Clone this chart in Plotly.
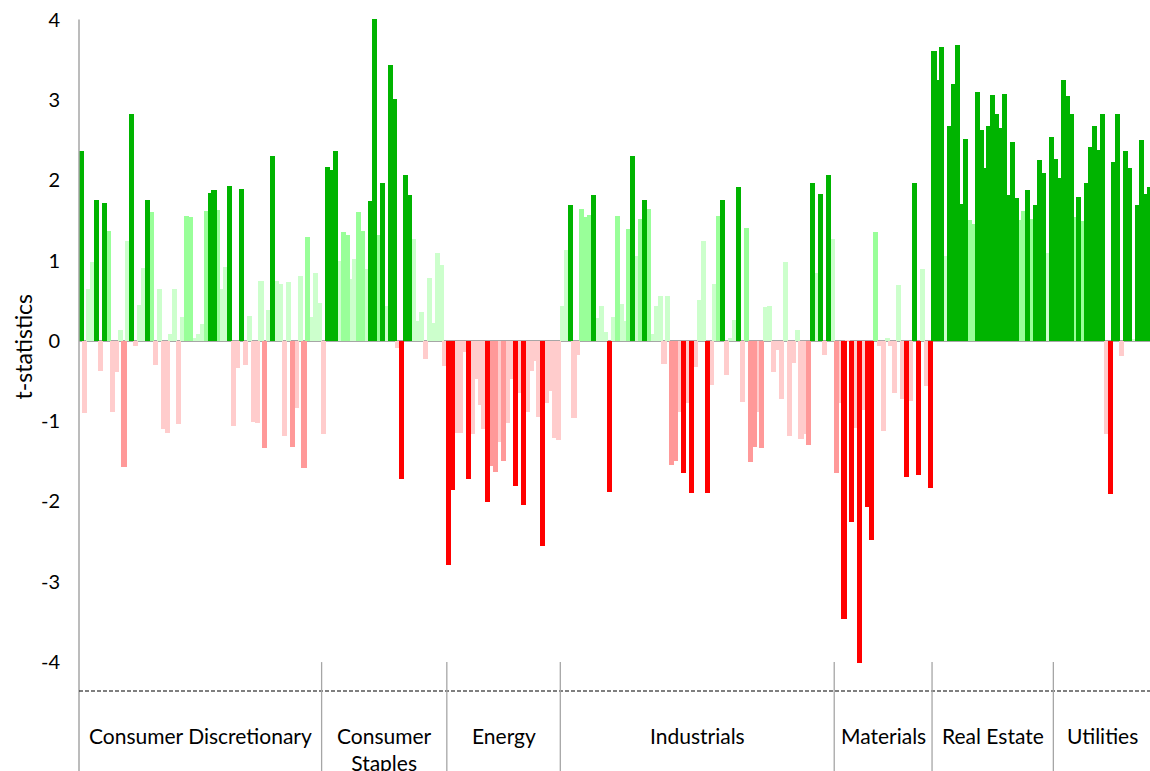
import plotly.graph_objects as go

# t-statistics per stock, grouped by GICS sector (left to right)
sectors = ["Consumer Discretionary", "Consumer<br>Staples", "Energy", "Industrials",
           "Materials", "Real Estate", "Utilities"]

consumer_discretionary = [
    2.37, -0.90, 0.64, 0.98, 1.76, -0.38, 1.72, 1.37, -0.88, -0.39,
    0.14, -1.57, 1.24, 2.82, -0.06, 0.45, 0.91, 1.76, 1.60, -0.30,
    0.64, -1.10, -1.15, 0.08, 0.64, -1.04, 0.30, 1.56, 1.54, 0.03,
    0.09, 0.21, 1.62, 1.84, 1.88, 1.63, 0.64, 0.92, 1.93, -1.06,
    -0.34, 1.89, -0.30, 0.31, -1.01, -1.02, 0.75, -1.33, 0.38, 2.30,
    0.75, 0.71, -1.18, 0.73, -1.32, -0.84, 0.81, -1.58, 1.29, 0.30,
    0.85, 0.47,
]
consumer_staples = [
    -1.16, 2.16, 2.13, 2.37, 0.99, 1.36, 1.32, 0.77, 1.02, 1.60,
    1.37, 0.90, 1.74, 4.01, 1.32, 1.96, 0.44, 3.43, 3.01, -0.09,
    -1.72, 2.06, 1.82, 1.27, 0.25, 0.36, -0.22, 0.78, 0.22, 1.10,
    0.94, -0.31,
]
energy = [
    -2.79, -1.86, -1.15, -1.15, -0.14, -1.72, -1.16, -0.47, -0.80, -1.10,
    -2.01, -1.56, -1.63, -1.26, -1.49, -1.02, -0.47, -1.81, -0.65, -2.04,
    -0.88, -0.38, -0.25, -0.95, -2.55, -0.77, -0.62, -1.21, -1.24,
]
industrials = [
    0.44, 1.13, 1.69, -0.96, -0.18, 1.64, 1.54, 1.57, 1.81, 0.28,
    0.44, 0.11, -1.88, 0.30, 1.56, 0.46, 0.25, 1.39, 2.30, 1.06,
    1.52, 1.76, 1.64, 0.08, 0.43, 0.56, -0.29, 0.56, -1.54, -1.49,
    -0.89, -1.65, -0.78, -1.90, -0.33, 0.51, 1.24, -1.89, -0.55, 0.71,
    1.56, 1.76, -0.43, 0.04, 0.26, 1.92, -0.76, 1.40, -1.51, -1.32,
    -0.89, -1.34, 0.42, 0.44, -0.39, -0.12, -0.72, 0.98, -1.18, -0.27,
    0.14, -1.22, -1.16, -1.30, 1.97, 0.85, 1.83, -0.17, 2.07, 1.27,
]
materials = [
    -1.64, -0.78, -3.46, -0.02, -2.26, -1.09, -4.01, -0.86, -2.07, -2.48,
    1.36, -0.07, -1.12, 0.04, -0.06, -0.65, 0.70, -0.72, -1.69, -0.75,
    1.96, -1.67, 0.90, -0.56, -1.83,
]
real_estate = [
    3.61, 3.25, 3.66, 1.06, 2.68, 3.20, 3.68, 1.71, 2.51, 1.50,
    1.45, 3.10, 2.62, 2.15, 2.68, 3.06, 2.82, 2.65, 3.07, 1.81,
    2.47, 1.78, 1.50, 1.62, 1.88, 1.52, 1.69, 2.25, 2.09, 1.09,
    2.54,
]
utilities = [
    2.27, 2.03, 3.25, 3.05, 2.83, 1.54, 1.79, 1.49, 1.97, 2.41,
    2.67, 2.38, 2.82, -1.16, -1.91, 2.23, 2.83, -0.19, 2.37, 2.15,
    0.02, 1.69, 2.50, 1.83, 1.91,
]

groups = [consumer_discretionary, consumer_staples, energy, industrials,
          materials, real_estate, utilities]

y_ticks = [4, 3, 2, 1, 0, -1, -2, -3, -4]

# significance shading: |t| >= 1.645 strong, >= 1.28 moderate, else weak
POS = {"strong": "#00B400", "moderate": "#99FF99", "weak": "#CCFFCC"}
NEG = {"strong": "#FF0000", "moderate": "#FF9999", "weak": "#FFCCCC"}


def level(v):
    a = abs(v)
    if a >= 1.645:
        return "strong"
    if a >= 1.28:
        return "moderate"
    return "weak"


values = [v for g in groups for v in g]
xs = list(range(len(values)))

# boundaries between sectors (category coordinates) and sector centres
bounds, centres = [], []
start = 0
for g in groups:
    end = start + len(g)
    centres.append((start + end - 1) / 2)
    bounds.append(end - 0.5)
    start = end
bounds = bounds[:-1]

X_MIN, X_MAX = -0.5, 273.2
Y_MIN, Y_MAX = -4.36, 4.02

fig = go.Figure()
# weak bars first, strong bars drawn on top
for lv in ["weak", "moderate", "strong"]:
    ys = [v if level(v) == lv else None for v in values]
    cols = [POS[lv] if v >= 0 else NEG[lv] for v in values]
    fig.add_trace(go.Bar(x=xs, y=ys, width=1.3, marker=dict(color=cols, line=dict(width=0)),
                         showlegend=False, hoverinfo="x+y"))


def xpaper(x):
    return (x - X_MIN) / (X_MAX - X_MIN)


def ypaper(v):
    return (v - Y_MIN) / (Y_MAX - Y_MIN)


TOP_MARGIN, BOTTOM_MARGIN = 18, 80
plot_h = 771 - TOP_MARGIN - BOTTOM_MARGIN
bottom_paper = -BOTTOM_MARGIN / plot_h
sep_top = ypaper(-4.0)

shapes = [
    # vertical value axis, continuing through the sector-label band
    dict(type="line", xref="paper", yref="paper", x0=0, x1=0,
         y0=bottom_paper, y1=ypaper(4.0), line=dict(color="#A6A6A6", width=1.5)),
    # dashed base line above the sector labels
    dict(type="line", xref="paper", yref="paper", x0=0, x1=1, y0=0, y1=0,
         line=dict(color="#000000", width=1.2, dash="4px,2px")),
]
for b in bounds:
    shapes.append(dict(type="line", xref="paper", yref="paper", x0=xpaper(b), x1=xpaper(b),
                       y0=bottom_paper, y1=sep_top, line=dict(color="#A6A6A6", width=1.3)))

annotations = []
for name, c in zip(sectors, centres):
    two_line = "<br>" in name
    ypix = 748.5 if two_line else 735
    annotations.append(dict(x=c, xref="x", y=(771 - BOTTOM_MARGIN - ypix) / plot_h, yref="paper",
                            text=name, showarrow=False, xanchor="center", yanchor="middle",
                            font=dict(size=21, color="#000000")))
annotations.append(dict(x=0, xref="paper", xshift=-56, y=-0.07, yref="y", text="t-statistics",
                        textangle=-90, showarrow=False, xanchor="center", yanchor="middle",
                        font=dict(size=23, color="#000000")))

fig.update_layout(
    width=1150, height=771,
    margin=dict(l=79, r=0, t=TOP_MARGIN, b=BOTTOM_MARGIN, autoexpand=False),
    paper_bgcolor="white", plot_bgcolor="white",
    font=dict(family="Lato, 'Open Sans', sans-serif", size=20, color="#000000"),
    barmode="overlay", bargap=0,
    shapes=shapes, annotations=annotations,
    xaxis=dict(range=[X_MIN, X_MAX], showticklabels=False, showgrid=False,
               zeroline=False, showline=False, ticks=""),
    yaxis=dict(range=[Y_MIN, Y_MAX], tickvals=y_ticks, ticktext=[str(t) for t in y_ticks],
               showgrid=False, zeroline=True, zerolinecolor="#A6A6A6", zerolinewidth=1.5,
               showline=False, ticks="", ticklabelstandoff=18, layer="above traces",
               automargin=False),
)

fig.write_html("out.html")
